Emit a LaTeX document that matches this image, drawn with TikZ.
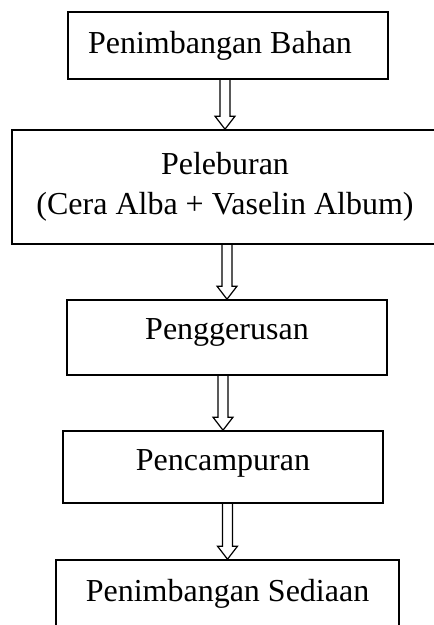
\documentclass[tikz,border=0pt]{standalone}
\usepackage{fontspec}
\setmainfont{Liberation Serif}
\usetikzlibrary{calc}

\tikzset{
    procbox/.style={draw, line width=1.6pt, align=center, inner sep=0pt},
    arrowline/.style={line width=1.2pt, line join=miter}
}

\begin{document}
\begin{tikzpicture}[x=1pt,y=-1pt]
    \tikzstyle{every node}=[font=\fontsize{32}{40}\selectfont]
    \clip (0,0) rectangle (434,625);

    \node[procbox, minimum width=320pt, minimum height=67pt] (bahan) at (228,45.5)
    {Penimbangan Bahan\hspace*{16pt}};

    \node[procbox, minimum width=426pt, minimum height=114pt] (lebur) at (225,187)
    {Peleburan\\(Cera Alba + Vaselin Album)};

    \node[procbox, minimum width=320pt, minimum height=75pt, text depth=16pt] (gerus) at (227,337.5)
    {Penggerusan};

    \node[procbox, minimum width=320pt, minimum height=72pt, text depth=14pt] (campur) at (223,467)
    {Pencampuran};

    \node[procbox, minimum width=343pt, minimum height=67pt] (sediaan) at (227.5,593.5)
    {Penimbangan Sediaan};

    % hollow arrows between the steps
    \foreach \a/\b in {bahan/lebur, lebur/gerus, gerus/campur, campur/sediaan}
    \draw[arrowline] let \p1=(\a.south), \p2=(\b.north) in
    (\x2-5pt,\y1) -- (\x2-5pt,\y2+13pt) -- (\x2-10pt,\y2+13pt) -- (\x2,\y2)
    -- (\x2+10pt,\y2+13pt) -- (\x2+5pt,\y2+13pt) -- (\x2+5pt,\y1);
\end{tikzpicture}
\end{document}
